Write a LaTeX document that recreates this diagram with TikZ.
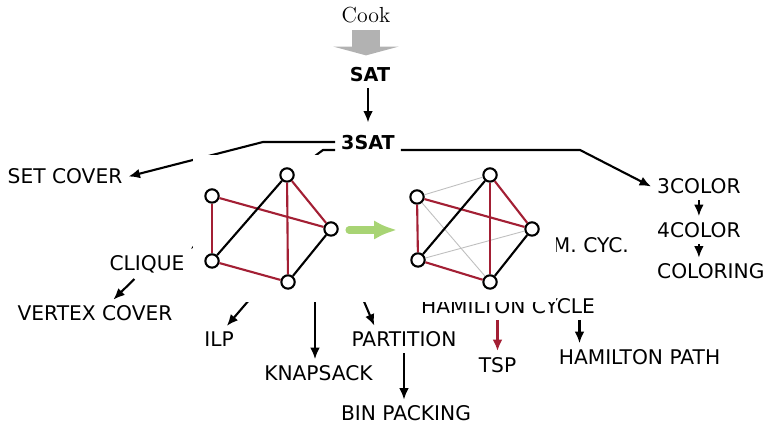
\documentclass[tikz,border=0pt]{standalone}
\usepackage{fontspec}
\setsansfont{DejaVu Sans}
\usetikzlibrary{arrows.meta}
\definecolor{mitred}{RGB}{163,31,52}
\definecolor{morphgreen}{RGB}{168,212,116}
\begin{document}
\begin{tikzpicture}
	\tikzset{problem/.style = {font=\sffamily\fontsize{11.5}{13}\selectfont}}
	\tikzset{mainproblem/.style = {font=\sffamily\bfseries\fontsize{10.9}{13}\selectfont}}
	\tikzset{edge/.style = {->,> = {Latex[length=6.5pt,width=5.5pt]},line width=1.2pt}}
	\tikzset{cookarrow/.style = {gray!60,line width=16.4pt,-{Triangle[width=37pt,length=5pt]},shorten >=3.5pt}}
	\tikzset{morph/.style = {morphgreen,line width=4pt,line cap=round,-{Latex[length=13pt,width=11pt]}}}
	\tikzset{vertex/.style = {shape=circle,draw,line width=1.2pt,fill=white,inner sep=0pt,minimum size=7.6pt}}
	\tikzset{redline/.style = {mitred,line width=1.2pt}}
	\tikzset{blackline/.style = {black,line width=1.2pt}}
	\tikzset{thinline/.style = {gray!50,line width=0.5pt}}
	\useasboundingbox (0,0) rectangle (15.28,-8.5);
	% problems
	\node (cook) at (7.32,-0.31) {\fontsize{12.4}{14}\selectfont Cook};
	\node[mainproblem] (sat) at (7.40,-1.50) {SAT};
	\node[mainproblem] (threesat) at (7.36,-2.86) {3SAT};
	\node[problem] (setcover) at (1.30,-3.53) {SET COVER};
	\node[problem] (clique) at (2.94,-5.28) {CLIQUE};
	\node[problem] (vertexcover) at (1.90,-6.27) {VERTEX COVER};
	\node[problem] (ilp) at (4.38,-6.79) {ILP};
	\node[problem] (knapsack) at (6.37,-7.46) {KNAPSACK};
	\node[problem] (partition) at (8.08,-6.79) {PARTITION};
	\node[problem] (binpacking) at (8.12,-8.27) {BIN PACKING};
	\node[problem] (dirhamcyc) at (12.70,-4.91) [anchor=east] {DIR. HAM. CYC.};
	\node[problem] (hamcycle) at (10.16,-6.12) {HAMILTON CYCLE};
	\node[problem] (tsp) at (9.95,-7.30) {TSP};
	\node[problem] (hampath) at (12.79,-7.14) {HAMILTON PATH};
	\node[problem] (threecolor) at (13.02,-3.73) [anchor=west] {3COLOR};
	\node[problem] (fourcolor) at (13.02,-4.60) [anchor=west] {4COLOR};
	\node[problem] (coloring) at (13.02,-5.43) [anchor=west] {COLORING};
	% reductions
	\draw[cookarrow] (cook.south) -- (cook.south |- sat.north);
	\draw[edge,shorten >=4pt] (sat.south -| threesat) -- (threesat);
	\coordinate (bendl) at (5.26,-2.84);
	\coordinate (bendc) at (6.46,-3.00);
	\coordinate (bendr) at (11.60,-3.00);
	\draw[edge] (threesat.west |- bendl) -- (bendl) -- (setcover.east);
	\draw[edge] (threesat.west |- bendc) -- (bendc) -- (clique.north east);
	\draw[edge] (threesat.east |- bendr) -- (bendr) -- (threecolor.west);
	\draw[edge] (clique.230) -- (vertexcover.37);
	\coordinate (ilpfrom) at (5.24,-5.70);
	\coordinate (knapfrom) at (6.30,-5.70);
	\coordinate (partfrom) at (7.14,-5.70);
	\draw[edge] (ilpfrom) -- (ilp.60);
	\draw[edge] (knapfrom) -- (knapfrom |- knapsack.north);
	\draw[edge] (partfrom) -- (partition.155);
	\draw[edge] (partition.south) -- (partition.south |- binpacking.north);
	\draw[edge,mitred,line width=2pt] (tsp.north |- hamcycle.south) -- (tsp.north);
	\draw[edge] (hampath.167 |- hamcycle.south) -- (hampath.167);
	\draw[edge] (threecolor) -- (fourcolor);
	\draw[edge] (fourcolor.south) -- (fourcolor.south |- coloring.north);
	% the two graph pictures
	\fill[white] (3.86,-3.10) rectangle (7.44,-6.04);
	\fill[white] (7.90,-3.10) rectangle (11.12,-6.04);
	\node[vertex] (la) at (4.24,-3.92) {};
	\node[vertex] (lb) at (5.74,-3.50) {};
	\node[vertex] (lc) at (6.62,-4.58) {};
	\node[vertex] (ld) at (5.76,-5.64) {};
	\node[vertex] (le) at (4.24,-5.22) {};
	\path[redline] (la) edge (le) (la) edge (lc) (lb) edge (lc) (lb) edge (ld) (le) edge (ld);
	\path[blackline] (le) edge (lb) (lc) edge (ld);
	\node[vertex] (ra) at (8.34,-3.94) {};
	\node[vertex] (rb) at (9.80,-3.50) {};
	\node[vertex] (rc) at (10.64,-4.58) {};
	\node[vertex] (rd) at (9.80,-5.64) {};
	\node[vertex] (re) at (8.36,-5.20) {};
	\path[thinline] (ra) edge (rb) (ra) edge (rd) (re) edge (rc);
	\path[redline] (ra) edge (re) (ra) edge (rc) (rb) edge (rc) (rb) edge (rd) (re) edge (rd);
	\path[blackline] (re) edge (rb) (rc) edge (rd);
	\coordinate (gfrom) at (6.98,-4.60);
	\coordinate (gto) at (7.94,-4.60);
	\draw[morph] (gfrom) -- (gto);
\end{tikzpicture}
\end{document}
